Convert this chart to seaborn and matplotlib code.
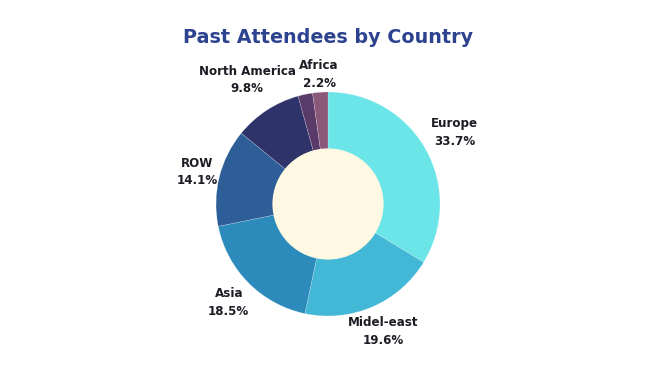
import matplotlib
matplotlib.use('Agg')
import matplotlib.pyplot as plt
import seaborn as sns
import numpy as np

countries = ['Europe', 'Midel-east', 'Asia', 'ROW', 'North America', '', 'Africa']
shares = [33.7, 19.6, 18.5, 14.1, 9.8, 2.1, 2.2]
colors = ['#6be5e7', '#43b8d6', '#2d8bbc', '#2e5e98', '#2e3469', '#5a3a68', '#8a5878']

sns.set_theme(style='white')
plt.rcParams['font.family'] = ['DejaVu Sans']

fig = plt.figure(figsize=(6.64, 3.7), dpi=100)
lim = 1.45
size_px = 112 * 2 * lim
ax = fig.add_axes([(328 - size_px / 2) / 664, (166 - size_px / 2) / 370,
                   size_px / 664, size_px / 370])

wedges, _ = ax.pie(shares, colors=colors, startangle=90, counterclock=False,
                   radius=1, wedgeprops=dict(width=0.51, edgecolor=(1, 1, 1, 0.45), linewidth=0.3))
ax.add_patch(plt.Circle((0, 0), 0.49, color='#fff8e2', zorder=3))

# label distances from the centre, tuned by eye
dist = [1.3, 1.24, 1.25, 1.2, 1.32, 1.2, 1.16]
for w, name, val, d in zip(wedges, countries, shares, dist):
    if not name:
        continue
    ang = np.deg2rad((w.theta1 + w.theta2) / 2)
    ax.text(d * np.cos(ang), d * np.sin(ang), f'{name}\n{val}%',
            ha='center', va='center', fontsize=8.6, fontweight='bold',
            color='#1c1c24', linespacing=1.45)

ax.set_xlim(-lim, lim)
ax.set_ylim(-lim, lim)
ax.set_aspect('equal')
ax.axis('off')

fig.text(0.494, 0.898, 'Past Attendees by Country', ha='center', va='center',
         fontsize=13.8, fontweight='bold', color='#2e4390')

plt.savefig('out.png', dpi=100)
